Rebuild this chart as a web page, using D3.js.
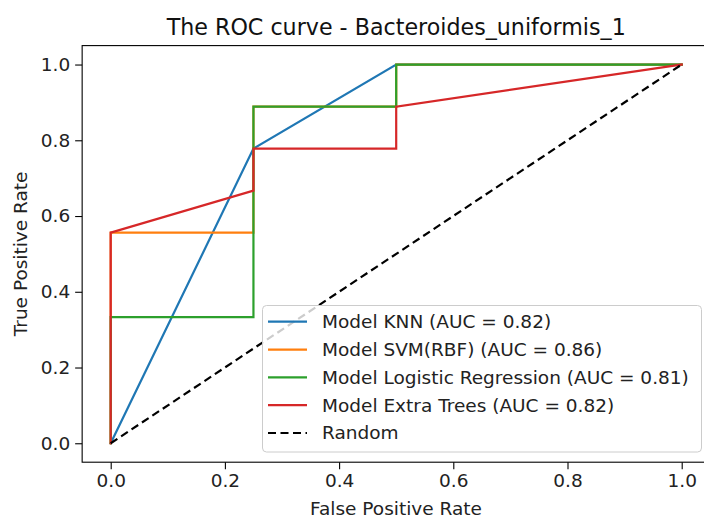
<!DOCTYPE html>
<html><head><meta charset="utf-8">
<script src="https://cdn.jsdelivr.net/npm/d3@7"></script>
<style>
html,body{margin:0;padding:0;background:#fff;}
svg{display:block;font-family:"DejaVu Sans",sans-serif;}
</style></head>
<body>
<svg id="chart" width="704" height="518"></svg>
<script>
const titleText = "The ROC curve - Bacteroides_uniformis_1";
const xLabel = "False Positive Rate";
const yLabel = "True Positive Rate";
const tickValues = [0, 0.2, 0.4, 0.6, 0.8, 1.0];
const seriesNames = ["Model KNN (AUC = 0.82)", "Model SVM(RBF) (AUC = 0.86)", "Model Logistic Regression (AUC = 0.81)", "Model Extra Trees (AUC = 0.82)"];
const seriesColors = ["#1f77b4", "#ff7f0e", "#2ca02c", "#d62728"];
const knnFpr = [0, 0.25, 0.5, 1];
const knnTpr = [0, 0.778, 1, 1];
const svmFpr = [0, 0, 0.25, 0.25, 0.5, 0.5, 1];
const svmTpr = [0, 0.556, 0.556, 0.889, 0.889, 1, 1];
const lrFpr = [0, 0, 0.25, 0.25, 0.5, 0.5, 1];
const lrTpr = [0, 0.333, 0.333, 0.889, 0.889, 1, 1];
const etFpr = [0, 0, 0.25, 0.25, 0.5, 0.5, 1];
const etTpr = [0, 0.556, 0.667, 0.778, 0.778, 0.889, 1];
const randomFpr = [0, 1];
const randomTpr = [0, 1];
const randomLabel = "Random";

const svg = d3.select("#chart");
const x = d3.scaleLinear().domain([-0.05, 1.05]).range([82.15, 710.25]);
const y = d3.scaleLinear().domain([-0.05, 1.05]).range([462.2, 45.6]);
const fs = 18.5;

// axes
const xAxis = svg.append("g").attr("transform", `translate(0,${y(-0.05)})`)
  .call(d3.axisBottom(x).tickValues(tickValues).tickFormat(d3.format(".1f")).tickSize(7).tickPadding(5));
const yAxis = svg.append("g").attr("transform", `translate(${x(-0.05)},0)`)
  .call(d3.axisLeft(y).tickValues(tickValues).tickFormat(d3.format(".1f")).tickSize(7).tickPadding(5));
[xAxis, yAxis].forEach(g => {
  g.select(".domain").remove();
  g.selectAll("line").attr("stroke", "#000").attr("stroke-width", 1.1);
  g.selectAll("text").attr("font-size", fs).attr("font-family", "DejaVu Sans").attr("fill", "#222");
});

const series = [
  {f: knnFpr, t: knnTpr},
  {f: svmFpr, t: svmTpr},
  {f: lrFpr, t: lrTpr},
  {f: etFpr, t: etTpr}
];
const line = d3.line().x(d => x(d[0])).y(d => y(d[1]));
series.forEach((s, i) => {
  svg.append("path").datum(s.f.map((v, j) => [v, s.t[j]]))
    .attr("d", line).attr("fill", "none").attr("stroke", seriesColors[i])
    .attr("stroke-width", 2.2).attr("stroke-linejoin", "miter").attr("stroke-linecap", "square");
});
svg.append("path").datum(randomFpr.map((v, j) => [v, randomTpr[j]]))
  .attr("d", line).attr("fill", "none").attr("stroke", "#000")
  .attr("stroke-width", 2.2).attr("stroke-dasharray", "8,4.5");

// frame
svg.append("rect").attr("x", x(-0.05)).attr("y", y(1.05))
  .attr("width", x(1.05) - x(-0.05)).attr("height", y(-0.05) - y(1.05))
  .attr("fill", "none").attr("stroke", "#000").attr("stroke-width", 1.1);

// title and labels
svg.append("text").attr("x", (x(-0.05) + x(1.05)) / 2).attr("y", 35)
  .attr("text-anchor", "middle").attr("font-size", 22.2).attr("fill", "#111").text(titleText);
svg.append("text").attr("x", 396).attr("y", 515)
  .attr("text-anchor", "middle").attr("font-size", fs).attr("fill", "#222").text(xLabel);
svg.append("text").attr("transform", `translate(27,${(y(-0.05) + y(1.05)) / 2}) rotate(-90)`)
  .attr("text-anchor", "middle").attr("font-size", fs).attr("fill", "#222").text(yLabel);

// legend
const lg = svg.append("g");
lg.append("rect").attr("x", 262.5).attr("y", 305.5).attr("width", 439).attr("height", 146.5)
  .attr("rx", 4).attr("fill", "#fff").attr("fill-opacity", 0.8).attr("stroke", "#ccc").attr("stroke-width", 1);
const items = seriesNames.map((n, i) => ({name: n, color: seriesColors[i], dash: null}))
  .concat([{name: randomLabel, color: "#000", dash: "8,4.5"}]);
const rowY = d3.scaleLinear().domain([0, 4]).range([321.7, 433]);
items.forEach((it, i) => {
  const cy = rowY(i);
  lg.append("line").attr("x1", 268).attr("x2", 307).attr("y1", cy).attr("y2", cy)
    .attr("stroke", it.color).attr("stroke-width", 2.2).attr("stroke-dasharray", it.dash);
  lg.append("text").attr("x", 322).attr("y", cy).attr("dy", "0.35em")
    .attr("font-size", fs).attr("fill", "#222").text(it.name);
});
</script>
</body></html>
